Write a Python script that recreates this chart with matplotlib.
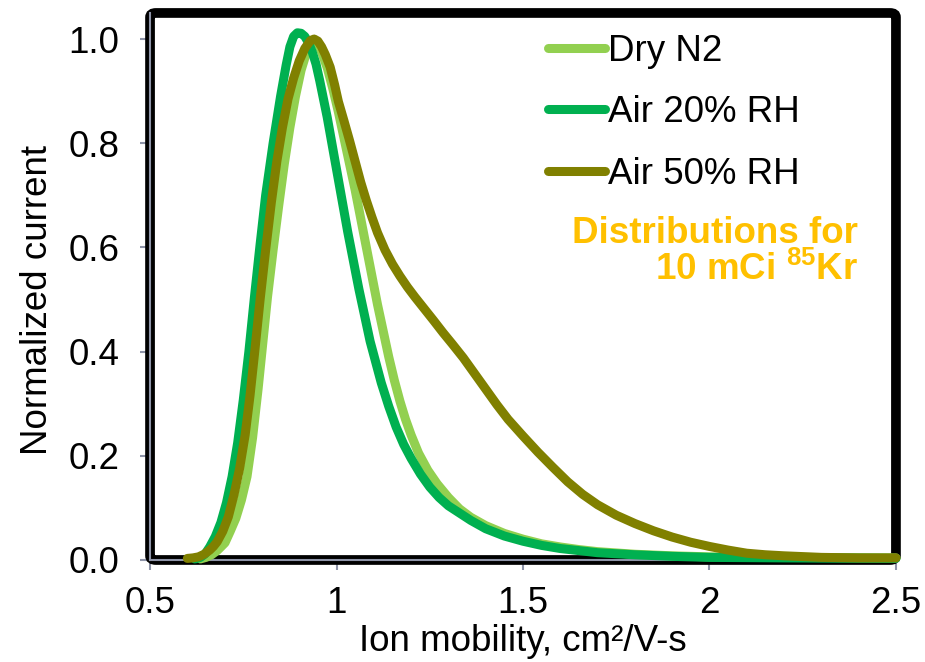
import matplotlib.pyplot as plt
from matplotlib.patches import FancyBboxPatch

plt.rcParams['font.family'] = ['Liberation Sans', 'DejaVu Sans']
plt.rcParams['mathtext.fontset'] = 'custom'
plt.rcParams['mathtext.rm'] = 'Liberation Sans'
plt.rcParams['mathtext.bf'] = 'Liberation Sans:bold'

# normalized mobility distributions
x_dry = [0.635, 0.65, 0.665, 0.68, 0.69, 0.701, 0.715, 0.73, 0.745, 0.76, 0.775, 0.79,
         0.80, 0.815, 0.83, 0.845, 0.86, 0.875, 0.89, 0.905, 0.92, 0.93, 0.94, 0.95,
         0.96, 0.975, 0.99, 1.005, 1.02, 1.035, 1.05, 1.065, 1.08, 1.095, 1.11, 1.125,
         1.14, 1.155, 1.17, 1.185, 1.2, 1.22, 1.245, 1.27, 1.3, 1.33, 1.36, 1.4, 1.45,
         1.5, 1.55, 1.6, 1.65, 1.7, 1.8, 1.9, 2.0, 2.2, 2.5]
y_dry = [0.002, 0.005, 0.01, 0.018, 0.025, 0.033, 0.055, 0.08, 0.115, 0.16, 0.235, 0.33,
         0.40, 0.505, 0.595, 0.68, 0.76, 0.83, 0.89, 0.94, 0.975, 0.992, 0.998, 0.992,
         0.975, 0.945, 0.905, 0.86, 0.81, 0.76, 0.71, 0.655, 0.60, 0.545, 0.49, 0.44,
         0.39, 0.345, 0.305, 0.27, 0.24, 0.205, 0.172, 0.146, 0.12, 0.098, 0.082, 0.066, 0.051,
         0.04, 0.031, 0.025, 0.02, 0.016, 0.011, 0.008, 0.006, 0.005, 0.004]

x_rh20 = [0.62, 0.635, 0.648, 0.66, 0.675, 0.69, 0.705, 0.72, 0.735, 0.75, 0.765, 0.78,
          0.795, 0.81, 0.83, 0.85, 0.865, 0.875, 0.885, 0.895, 0.905, 0.915, 0.925, 0.935,
          0.945, 0.955, 0.965, 0.975, 0.985, 0.995, 1.005, 1.015, 1.03, 1.045, 1.06, 1.075,
          1.09, 1.105, 1.12, 1.14, 1.16, 1.18, 1.2, 1.225, 1.25, 1.275, 1.3, 1.33, 1.36,
          1.4, 1.45, 1.5, 1.55, 1.6, 1.65, 1.7, 1.8, 1.9, 2.0, 2.2, 2.5]
y_rh20 = [0.002, 0.005, 0.012, 0.025, 0.045, 0.072, 0.11, 0.16, 0.225, 0.307, 0.40, 0.505,
          0.605, 0.70, 0.80, 0.89, 0.95, 0.985, 1.005, 1.012, 1.011, 1.005, 0.993, 0.975,
          0.952, 0.92, 0.885, 0.85, 0.81, 0.77, 0.73, 0.69, 0.63, 0.575, 0.52, 0.47,
          0.42, 0.38, 0.34, 0.295, 0.255, 0.222, 0.195, 0.165, 0.14, 0.12, 0.104, 0.09, 0.076,
          0.06, 0.046, 0.036, 0.028, 0.022, 0.018, 0.014, 0.01, 0.007, 0.005, 0.004, 0.003]

x_rh50 = [0.60, 0.615, 0.63, 0.645, 0.66, 0.67, 0.68, 0.695, 0.71, 0.725, 0.74, 0.755,
          0.768, 0.78, 0.795, 0.81, 0.825, 0.84, 0.855, 0.87, 0.885, 0.90, 0.915, 0.93,
          0.94, 0.95, 0.96, 0.97, 0.983, 0.995, 1.005, 1.02, 1.035, 1.05, 1.065, 1.08,
          1.095, 1.11, 1.13, 1.15, 1.17, 1.19, 1.21, 1.23, 1.26, 1.286, 1.31, 1.34, 1.37,
          1.4, 1.43, 1.46, 1.5, 1.54, 1.58, 1.62, 1.66, 1.7, 1.75, 1.8, 1.85, 1.9, 1.95,
          2.0, 2.05, 2.1, 2.15, 2.2, 2.3, 2.4, 2.5]
y_rh50 = [0.003, 0.004, 0.006, 0.011, 0.019, 0.026, 0.035, 0.055, 0.083, 0.125, 0.175, 0.24,
          0.315, 0.395, 0.499, 0.595, 0.685, 0.765, 0.83, 0.885, 0.925, 0.958, 0.982, 0.997,
          1.0, 0.996, 0.985, 0.97, 0.946, 0.912, 0.88, 0.843, 0.805, 0.765, 0.725, 0.69,
          0.658, 0.628, 0.595, 0.568, 0.545, 0.524, 0.505, 0.487, 0.46, 0.436, 0.415, 0.388, 0.358,
          0.328, 0.298, 0.27, 0.238, 0.207, 0.178, 0.15, 0.126, 0.106, 0.086, 0.07, 0.056, 0.044, 0.034,
          0.026, 0.019, 0.013, 0.01, 0.008, 0.005, 0.004, 0.004]

series = [("Dry N2", x_dry, y_dry, "#92D050"),
          ("Air 20% RH", x_rh20, y_rh20, "#00B050"),
          ("Air 50% RH", x_rh50, y_rh50, "#808000")]

fs = 26.5

fig = plt.figure(figsize=(9.25, 6.62), dpi=100)
ax = fig.add_axes([0.1622, 0.1541, 0.8064, 0.8263])

for label, xs, ys, color in series:
    ax.plot(xs, ys, color=color, lw=6.5, label=label, solid_capstyle='round',
            solid_joinstyle='round', clip_on=False, zorder=5)

ax.set_xlim(0.5, 2.5)
ax.set_ylim(0, 1.05)
ax.set_xticks([0.5, 1, 1.5, 2, 2.5])
ax.set_xticklabels(["0.5", "1", "1.5", "2", "2.5"])
ax.set_yticks([0, 0.2, 0.4, 0.6, 0.8, 1.0])
ax.set_yticklabels(["0.0", "0.2", "0.4", "0.6", "0.8", "1.0"])

# thick black frame with rounded corners
frame = FancyBboxPatch((0, 0), 1, 1, boxstyle="round,pad=0,rounding_size=0.008",
                       transform=ax.transAxes, fill=False, ec='black', lw=7,
                       clip_on=False, zorder=2)
ax.add_patch(frame)

gray = "#8E94A8"
for side in ['top', 'right']:
    ax.spines[side].set_visible(False)
for side in ['left', 'bottom']:
    ax.spines[side].set_color(gray)
    ax.spines[side].set_linewidth(1.5)
    ax.spines[side].set_zorder(3)
ax.tick_params(axis='both', colors=gray, labelcolor='black', labelsize=fs,
               direction='out', length=7, width=1.5)
ax.tick_params(axis='y', pad=15)
ax.tick_params(axis='x', pad=12)

ax.set_xlabel("Ion mobility, cm²/V-s", fontsize=fs, va='baseline')
ax.xaxis.set_label_coords(0.5, -0.166)
ax.set_ylabel("Normalized current", fontsize=fs)
ax.yaxis.set_label_coords(-0.128, 0.475)

leg = ax.legend(loc='upper left', bbox_to_anchor=(0.5335, 0.962), frameon=False,
                fontsize=fs, handlelength=1.55, handletextpad=0.08,
                labelspacing=0.72, borderpad=0, borderaxespad=0)
for line in leg.get_lines():
    line.set_solid_capstyle('round')

ax.text(0.949, 0.563, "Distributions for\n10 mCi $\\mathbf{^{85}}$Kr",
        transform=ax.transAxes, ha='right', va='center', color="#FFC000",
        fontsize=fs, fontweight='bold', linespacing=1.05, multialignment='right')

fig.savefig("out.png", dpi=100)
